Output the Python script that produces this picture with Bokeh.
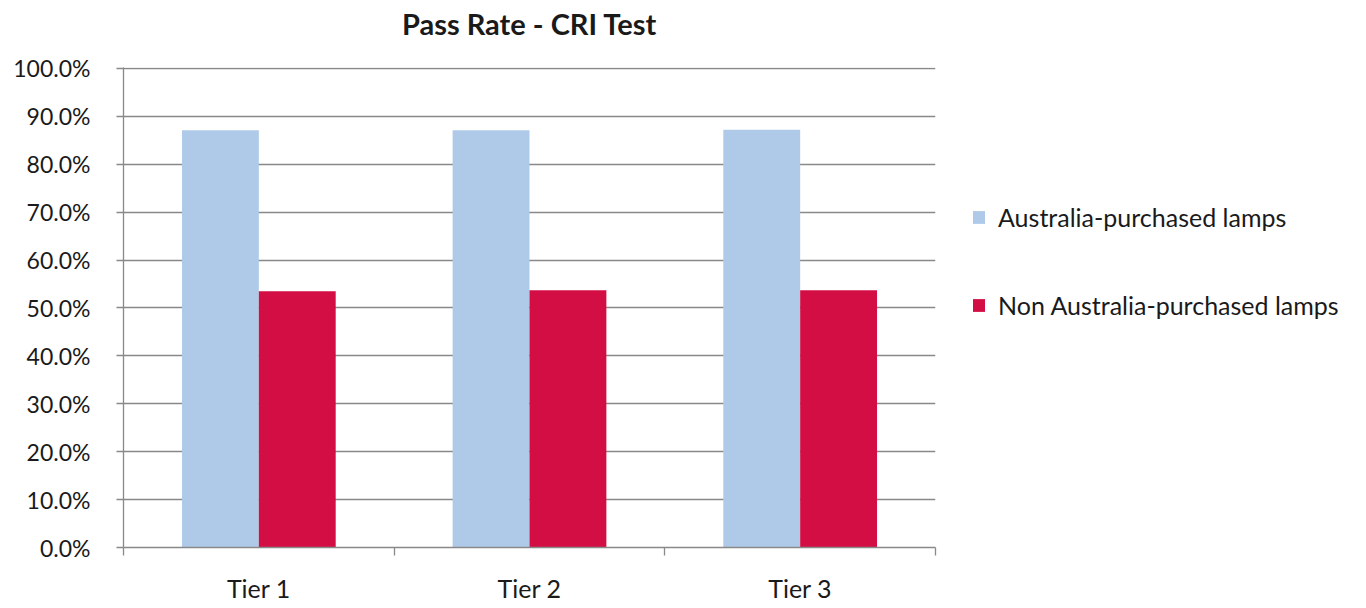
from bokeh.plotting import figure
from bokeh.models import (ColumnDataSource, Range1d, FixedTicker, NumeralTickFormatter,
                          Legend, LegendItem, Title)
from bokeh.transform import dodge
from bokeh.embed import file_html
from bokeh.resources import INLINE

tiers = ["Tier 1", "Tier 2", "Tier 3"]
australia = [0.871, 0.871, 0.872]
non_australia = [0.535, 0.537, 0.537]
series_names = ["Australia-purchased lamps", "Non Australia-purchased lamps"]
colors = ["#AFCAE8", "#D30E45"]

pos = [i + 0.5 for i in range(len(tiers))]
src = ColumnDataSource(dict(pos=pos, tier=tiers, a=australia, n=non_australia))

FONT = "Lato"
TXT = "#1a1a1a"
GRID = "#898989"

p = figure(frame_width=812, frame_height=480, output_backend="svg", toolbar_location=None,
           x_range=Range1d(0, len(tiers)), y_range=Range1d(0, 1.002),
           min_border_left=123, min_border_right=0, min_border_top=67, min_border_bottom=57,
           title="Pass Rate - CRI Test")
p.outline_line_color = None
p.title.align = "center"
p.title.text_font = FONT
p.title.text_font_size = "29px"
p.title.text_font_style = "bold"
p.title.text_color = TXT
p.title.standoff = 4

# blank spacer between title and plot area
p.add_layout(Title(text=" ", text_font_size="2px", standoff=21), "above")

bw = 0.284
r1 = p.vbar(x=dodge("pos", -bw / 2, range=p.x_range), top="a", width=bw, source=src,
            fill_color=colors[0], line_color=None)
r2 = p.vbar(x=dodge("pos", bw / 2, range=p.x_range), top="n", width=bw, source=src,
            fill_color=colors[1], line_color=None)

# y axis
p.yaxis.ticker = FixedTicker(ticks=[i / 10 for i in range(11)])
p.yaxis.formatter = NumeralTickFormatter(format="0.0%")
p.yaxis.axis_line_color = GRID
p.yaxis.axis_line_width = 1.3
p.yaxis.major_tick_line_color = GRID
p.yaxis.major_tick_line_width = 1.3
p.yaxis.major_tick_out = 7
p.yaxis.major_tick_in = 0
p.yaxis.minor_tick_line_color = None
p.yaxis.major_label_text_font = FONT
p.yaxis.major_label_text_font_size = "23px"
p.yaxis.major_label_text_color = TXT
p.yaxis.major_label_standoff = 26

# x axis
p.xaxis.ticker = FixedTicker(ticks=pos, minor_ticks=list(range(len(tiers) + 1)))
p.xaxis.major_label_overrides = {pv: t for pv, t in zip(pos, tiers)}
p.xaxis.axis_line_color = GRID
p.xaxis.axis_line_width = 1.3
p.xaxis.major_tick_line_color = None
p.xaxis.minor_tick_line_color = GRID
p.xaxis.minor_tick_line_width = 1.3
p.xaxis.minor_tick_out = 8
p.xaxis.minor_tick_in = 0
p.xaxis.major_label_text_font = FONT
p.xaxis.major_label_text_font_size = "25px"
p.xaxis.major_label_text_color = TXT
p.xaxis.major_label_standoff = 17

p.xgrid.grid_line_color = None
p.ygrid.grid_line_color = GRID
p.ygrid.grid_line_width = 1.3

legend = Legend(items=[LegendItem(label=series_names[0], renderers=[r1]),
                       LegendItem(label=series_names[1], renderers=[r2])],
                location=(36, 227))
legend.border_line_color = None
legend.background_fill_alpha = 0
legend.padding = 0
legend.margin = 0
legend.glyph_width = 15
legend.glyph_height = 16
legend.label_height = 24
legend.spacing = 58
legend.label_standoff = 12
legend.label_text_font = FONT
legend.label_text_font_size = "25px"
legend.label_text_color = TXT
p.add_layout(legend, "right")

open("out.html", "w").write(file_html(p, INLINE))
